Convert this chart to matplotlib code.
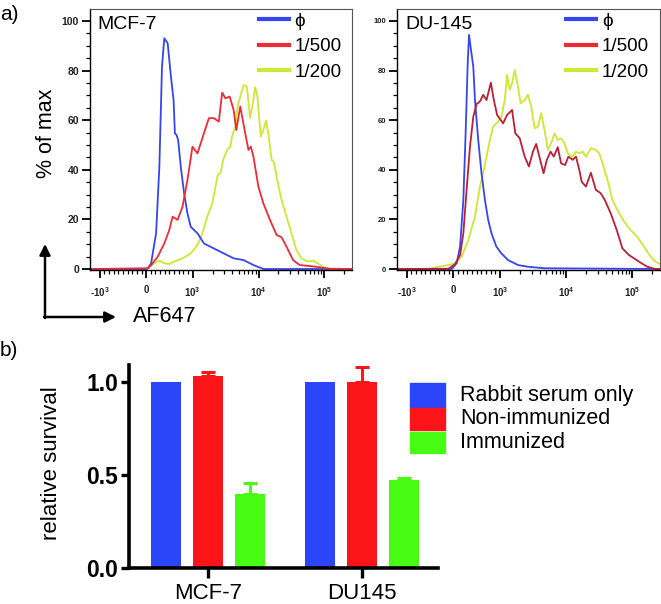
import numpy as np
import matplotlib
matplotlib.use('Agg')
import matplotlib.pyplot as plt
from matplotlib.lines import Line2D
from matplotlib.patches import Rectangle

plt.rcParams['font.family'] = ['Liberation Sans', 'DejaVu Sans']
plt.rcParams['mathtext.default'] = 'regular'

# ---------------- a) flow histograms (AF647 vs % of max) ----------------
mcf_blue_x = [-1400, 0, 36, 106, 213, 283, 340, 389, 462, 532, 589, 617, 653, 687, 745,
              815, 887, 958, 1180, 1480, 2090, 4180, 5910, 8350, 11800, 262000]
mcf_blue_y = [0, 0, 0.3, 2.3, 14.4, 41, 81.6, 93, 91, 77.6, 68, 54.7, 54, 52, 41,
              30.5, 22.4, 17, 14.4, 10.3, 8.3, 4.3, 3.6, 1.6, 0, 0]

mcf_red_x = [-1400, 36, 106, 249, 389, 496, 568, 675, 781, 887, 994, 1180, 1480, 1760,
             2090, 2490, 2800, 3140, 3640, 4180, 4590, 5270, 6270, 7020, 7630, 8350,
             9930, 11800, 14890, 18780, 22330, 26560, 33370, 42090, 75030, 118900, 262000]
mcf_red_y = [0, 0.3, 1.6, 5.0, 10.3, 15.7, 21.1, 19.8, 25.1, 35.9, 49.3, 46.6, 54.7, 60.8,
             60.8, 59.4, 71.1, 68.8, 69.5, 64.1, 56.0, 65.5, 54.7, 48.0, 49.3, 45.3,
             33.2, 26.5, 19.8, 13.7, 12.8, 9.0, 3.6, 1.6, 0.9, 0.1, 0]

mcf_yel_x = [-1400, 0, 36, 177, 283, 389, 496, 602, 781, 958, 1180, 1400, 1660, 1980, 2220,
             2400, 2640, 2900, 3330, 3730, 3950, 4430, 4800, 5270, 5910, 6650, 7450, 8180,
             8860, 9590, 10790, 11810, 12970, 14040, 15790, 17110, 18780, 22330, 26560,
             31570, 37540, 44630, 56090, 66710, 79290, 94280, 118900, 262000]
mcf_yel_y = [0, 0, 0.3, 2.3, 3.4, 2.3, 2.0, 3.0, 4.3, 6.3, 9.7, 14.4, 21.1, 26.5, 33.2,
             37.9, 38.6, 44.0, 48.0, 49.3, 53.4, 57.4, 65.5, 69.5, 74.2, 73.5, 60.8, 66.8,
             73.3, 69.5, 53.4, 56.0, 59.8, 54.7, 44.0, 42.9, 37.2, 27.8, 21.1,
             14.4, 7.7, 4.3, 3.0, 3.4, 2.3, 0.9, 0.1, 0]

du_blue_x = [-1400, -35, 70, 143, 213, 262, 304, 334, 377, 426, 462, 532, 602, 675, 745,
             815, 921, 1046, 1319, 1865, 2637, 4700, 262000]
du_blue_y = [0, 0, 2.3, 9.0, 27.8, 54.7, 81.6, 94.4, 88.3, 81.6, 68.1, 52.0, 38.6, 27.8, 19.8,
             14.4, 9.0, 6.3, 3.6, 1.6, 0.9, 0.3, 0]

du_red_x = [-1400, -106, 36, 143, 213, 283, 355, 426, 496, 568, 638, 709, 802, 866, 936,
            1110, 1274, 1515, 1699, 1978, 2352, 2730, 3135, 3515, 4036, 4542, 5090, 5786,
            6486, 7450, 8352, 9594, 10790, 12520, 14040, 15790, 17110, 19850, 23600, 28060,
            33370, 38330, 47180, 58060, 70720, 89220, 118900, 168100, 224000, 262000]
du_red_y = [0, 0.1, 2.0, 5.6, 14.4, 31.9, 49.3, 61.4, 66.5, 67.5, 70.2, 68.1, 75.1, 68.1, 62.1,
            58.7, 62.1, 64.1, 54.7, 52.7, 45.3, 41.3, 47.3, 50.4, 44.0, 38.6, 44.0, 47.3,
            45.3, 49.1, 42.6, 41.9, 45.3, 44.0, 45.3, 39.9, 35.2, 33.2, 38.8, 31.9,
            30.5, 27.8, 22.4, 15.7, 8.3, 5.6, 3.4, 0.9, 0, 0]

du_yel_x = [-1400, -532, -319, -106, 36, 177, 319, 462, 568, 638, 709, 781, 851, 958, 1046,
            1177, 1274, 1399, 1515, 1664, 1820, 2048, 2352, 2637, 2956, 3325, 3728, 4180,
            4700, 5271, 5907, 6646, 7450, 8352, 9395, 10530, 12520, 14040, 15790, 17710,
            19850, 23600, 28060, 31570, 35390, 42090, 50030, 59480, 75030, 94280, 118900,
            149900, 188500, 224000, 262000]
du_yel_y = [0, 0.1, 0.9, 1.6, 2.3, 5.0, 11.7, 21.1, 33.2, 38.6, 45.3, 52.0, 57.4, 59.4, 61.4,
            68.1, 78.2, 72.2, 74.9, 80.2, 74.9, 66.8, 68.1, 70.2, 65.5, 56.7, 57.4, 62.8,
            56.0, 48.0, 50.7, 54.7, 52.0, 52.7, 50.7, 46.6, 45.3, 47.3, 46.6, 47.3,
            45.3, 48.7, 48.0, 46.6, 42.6, 35.9, 27.8, 23.8, 19.1, 15.7, 13.0,
            9.0, 5.0, 3.0, 2.0]

dilutions = ['\u03d5', '1/500', '1/200']
xtick_vals = [-1000, 0, 1000, 10000, 100000]
xtick_labels = ['-$10^3$', '0', '$10^3$', '$10^4$', '$10^5$']
xminor = ([-v for v in range(100, 1000, 100)] + list(range(100, 1000, 100)) +
          list(range(2000, 10000, 1000)) + list(range(20000, 100000, 10000)) + [200000])

# ---------------- b) relative survival ----------------
cell_lines = ['MCF-7', 'DU145']
treatments = ['Rabbit serum only', 'Non-immunized', 'Immunized']
rabbit_mean = [1.0, 1.0]
rabbit_err = [0.0, 0.0]
nonimm_mean = [1.03, 1.0]
nonimm_err = [0.02, 0.08]
imm_mean = [0.40, 0.473]
imm_err = [0.055, 0.012]

BLUE, YEL = '#3545ef', '#cde832'
BAR_COLS = ['#2b45fb', '#fb1418', '#48fb12']

W, H = 661, 604
fig = plt.figure(figsize=(W / 100, H / 100), dpi=100)


def flow_panel(rect, curves, title, red_line, red_leg, tick_fs):
    ax = fig.add_axes(rect)
    (bx, by), (rx, ry), (yx, yy) = curves
    ax.plot(yx, yy, color=YEL, lw=1.3)
    ax.plot(bx, by, color=BLUE, lw=1.3)
    ax.plot(rx, ry, color=red_line, lw=1.3)
    ax.set_xscale('symlog', linthresh=1000, linscale=0.636)
    ax.set_xlim(-1400, 262000)
    ax.set_ylim(-0.4, 104.8)
    ax.set_xticks(xtick_vals)
    ax.set_xticklabels(xtick_labels)
    ax.set_xticks(xminor, minor=True)
    ax.set_yticks([0, 20, 40, 60, 80, 100])
    ax.set_yticks([v for v in range(5, 100, 5) if v % 20], minor=True)
    ax.tick_params(which='major', direction='out', length=6, width=1.3, color='black')
    ax.tick_params(which='minor', direction='out', length=3, width=0.9, color='black')
    ax.tick_params(axis='x', labelsize=7, pad=5, labelcolor='#222')
    ax.tick_params(axis='y', labelsize=tick_fs, pad=2, labelcolor='#222')
    for lab in ax.get_xticklabels() + ax.get_yticklabels():
        lab.set_fontweight('bold')
    for s in ['top', 'right']:
        ax.spines[s].set_color('#555')
        ax.spines[s].set_linewidth(0.8)
    for s in ['left', 'bottom']:
        ax.spines[s].set_linewidth(1.0)
    ax.text(0.03, 0.94, title, transform=ax.transAxes, fontsize=14, va='center')
    handles = [Line2D([], [], color=c, lw=3) for c in (BLUE, red_leg, YEL)]
    ax.legend(handles, dilutions, loc='upper left', bbox_to_anchor=(0.63, 1.0),
              frameon=False, fontsize=13.5, handlelength=1.6, handletextpad=0.3,
              labelspacing=0.45, borderpad=0.2, borderaxespad=0)
    return ax


ax1 = flow_panel([90 / W, 1 - 270 / H, 262 / W, 261 / H],
                 [(mcf_blue_x, mcf_blue_y), (mcf_red_x, mcf_red_y), (mcf_yel_x, mcf_yel_y)],
                 'MCF-7', '#ee2b36', '#ee2b36', 7.5)
ax2 = flow_panel([397 / W, 1 - 270 / H, 263 / W, 261 / H],
                 [(du_blue_x, du_blue_y), (du_red_x, du_red_y), (du_yel_x, du_yel_y)],
                 'DU-145', '#bd1f36', '#ec2a32', 5.5)

fig.text(47 / W, 1 - 133 / H, '% of max', rotation=90, fontsize=15.5, ha='center', va='center')
fig.text(0, 1 - 15 / H, 'a)', fontsize=15, va='center')

# axis arrows + AF647
arrow_kw = dict(arrowstyle='-|>', lw=1.8, color='black', mutation_scale=16, shrinkA=0, shrinkB=0)
ax1.annotate('', xy=(45, H - 244), xytext=(45, H - 318), xycoords='figure pixels',
             textcoords='figure pixels', arrowprops=arrow_kw, annotation_clip=False)
ax1.annotate('', xy=(116, H - 317), xytext=(44, H - 317), xycoords='figure pixels',
             textcoords='figure pixels', arrowprops=arrow_kw, annotation_clip=False)
fig.text(133 / W, 1 - 317 / H, 'AF647', fontsize=15.5, va='center')

# ---------------- b) bars ----------------
axb = fig.add_axes([129 / W, 1 - 568 / H, 309 / W, 203 / H])
grp = np.arange(len(cell_lines))
offsets = [-0.273, 0.0, 0.273]
for off, m, e, col in zip(offsets, [rabbit_mean, nonimm_mean, imm_mean],
                          [rabbit_err, nonimm_err, imm_err], BAR_COLS):
    yerr = None if not any(e) else [np.zeros(len(e)), e]
    axb.bar(grp + off, m, width=0.2, color=col, yerr=yerr,
            error_kw=dict(ecolor=col, elinewidth=2.2, capsize=5, capthick=2.2), zorder=2)
axb.set_xlim(-0.513, 1.494)
axb.set_ylim(0, 1.09)
axb.set_xticks(grp)
axb.set_xticklabels(cell_lines, fontsize=16)
axb.set_yticks([0, 0.5, 1.0])
axb.set_yticklabels(['0.0', '0.5', '1.0'], fontsize=16.5, fontweight='bold')
axb.tick_params(axis='y', length=6, width=2.4, pad=2)
axb.tick_params(axis='x', length=7, width=2.4, pad=4)
for s in ['top', 'right']:
    axb.spines[s].set_visible(False)
for s in ['left', 'bottom']:
    axb.spines[s].set_linewidth(2.6)

fig.text(52 / W, 1 - 463 / H, 'relative survival', rotation=90, fontsize=16,
         ha='center', va='center')
fig.text(0, 1 - 350 / H, 'b)', fontsize=15, va='center')

# legend boxes for b)
leg_rows = [(383, 407), (408, 430), (432, 453)]
for (top, bot), lab, col in zip(leg_rows, treatments, BAR_COLS):
    fig.add_artist(Rectangle((410 / W, 1 - bot / H), 35 / W, (bot - top) / H,
                             transform=fig.transFigure, color=col))
    fig.text(460 / W, 1 - (top + bot) / 2 / H, lab, fontsize=15.5, va='center')

fig.savefig('out.png', dpi=100)
